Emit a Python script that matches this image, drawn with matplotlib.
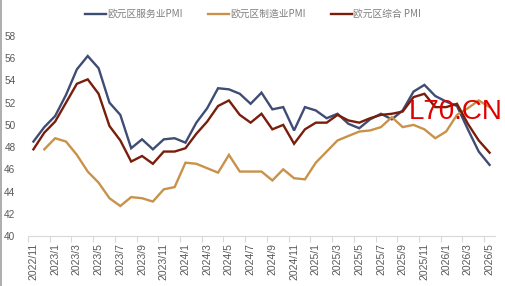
import matplotlib
matplotlib.use("Agg")
import matplotlib.pyplot as plt
from matplotlib.lines import Line2D

plt.rcParams['font.family'] = ['Noto Sans CJK SC', 'DejaVu Sans']

### data
months = []
for y in range(2022, 2027):
    for m in range(1, 13):
        if (y == 2022 and m < 11) or (y == 2026 and m > 5):
            continue
        months.append(f"{y}/{m}")

services = [48.5, 49.8, 50.8, 52.7, 55.0, 56.2, 55.1, 52.0, 50.9, 47.9, 48.7, 47.8,
            48.7, 48.8, 48.4, 50.2, 51.5, 53.3, 53.2, 52.8, 51.9, 52.9, 51.4, 51.6,
            49.5, 51.6, 51.3, 50.6, 51.0, 50.1, 49.7, 50.5, 51.0, 50.5, 51.3, 53.0,
            53.6, 52.6, 52.1, 51.7, 49.6, 47.6, 46.4]
manufacturing = [None, 47.8, 48.8, 48.5, 47.3, 45.8, 44.8, 43.4, 42.7, 43.5, 43.4, 43.1,
                 44.2, 44.4, 46.6, 46.5, 46.1, 45.7, 47.3, 45.8, 45.8, 45.8, 45.0, 46.0,
                 45.2, 45.1, 46.6, 47.6, 48.6, 49.0, 49.4, 49.5, 49.8, 50.7, 49.8, 50.0,
                 49.6, 48.8, 49.4, 50.9, 51.5, 52.2, 51.6]
composite = [47.8, 49.3, 50.3, 52.0, 53.7, 54.1, 52.8, 49.9, 48.6, 46.7, 47.2, 46.5,
             47.6, 47.6, 47.9, 49.2, 50.3, 51.7, 52.2, 50.9, 50.2, 51.0, 49.6, 50.0,
             48.3, 49.6, 50.2, 50.2, 50.9, 50.4, 50.2, 50.6, 50.9, 51.0, 51.2, 52.5,
             52.8, 51.6, 51.6, 51.9, 50.1, 48.6, 47.5]
names = ['欧元区服务业PMI', '欧元区制造业PMI', '欧元区综合 PMI']
colors = ['#3f4c74', '#c8924a', '#7a1e0c']

fig = plt.figure(figsize=(5.06, 2.86), dpi=100)
ax = fig.add_axes([28/506, 1-236/286, 467/506, 200/286])

x = list(range(len(months)))
mfg = [float('nan') if v is None else v for v in manufacturing]
for vals, name, c in zip([services, mfg, composite], names, colors):
    ax.plot(x, vals, color=c, lw=1.7, label=name, solid_joinstyle='miter')

ax.set_xlim(-0.5, len(months) - 0.5)
ax.set_ylim(40, 58)
ax.set_yticks(range(40, 59, 2))
ax.set_xticks(x[::2])
ax.set_xticklabels(months[::2], rotation=90, fontsize=7.5, color='#595959',
                   family=['Liberation Sans', 'DejaVu Sans'])
ax.set_xticks([i - 0.5 for i in range(0, len(months) + 1, 2)], minor=True)
ax.tick_params(axis='x', which='major', length=0, pad=5)
ax.tick_params(axis='x', which='minor', length=4, color='#d9d9d9', width=0.8)
ax.tick_params(axis='y', length=0, labelsize=7.2, labelcolor='#595959', pad=9)
for lab in ax.get_yticklabels():
    lab.set_family(['Liberation Sans', 'DejaVu Sans'])

for s in ['top', 'right', 'left']:
    ax.spines[s].set_visible(False)
ax.spines['bottom'].set_color('#d9d9d9')
ax.spines['bottom'].set_linewidth(0.8)

fig.legend(loc='center', bbox_to_anchor=(0.5, 1-14/286), ncol=3, frameon=False,
           fontsize=7, labelcolor='#7f7f7f', handlelength=2.2, handletextpad=0.1,
           columnspacing=2.6)

# watermark
fig.text(456/506, 1-112/286, 'L70.CN', color='#e00000', fontsize=20,
         family=['Liberation Sans', 'DejaVu Sans'], ha='center', va='center')

# chart frame edge on the left
fig.add_artist(Line2D([0.002, 0.002], [0, 1], color='#a0a0a0', lw=1.2,
                      transform=fig.transFigure))

fig.savefig('out.png', dpi=100)
